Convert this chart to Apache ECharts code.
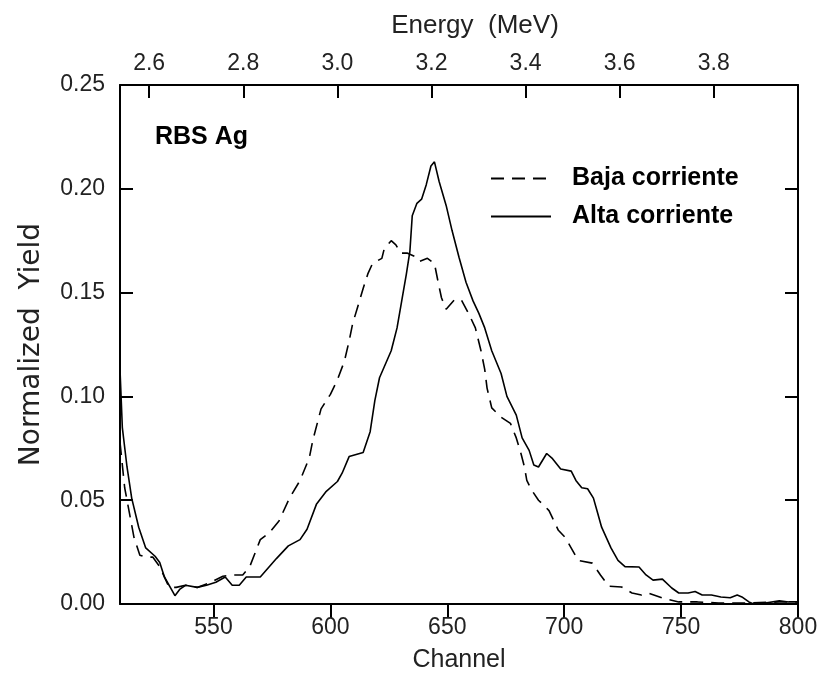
<!DOCTYPE html>
<html>
<head>
<meta charset="utf-8">
<script src="https://cdn.jsdelivr.net/npm/echarts@6/dist/echarts.min.js"></script>
<style>
html,body{margin:0;padding:0;background:#fff}
#wrap{position:relative;width:825px;height:685px}
#frame,#chart{position:absolute;left:0;top:0;width:825px;height:685px}
</style>
</head>
<body>
<div id="wrap"><div id="frame"></div><div id="chart"></div></div>
<script>
// Channel ticks (bottom axis) and energy ticks (top axis)
const channelTicks = [550, 600, 650, 700, 750, 800];
const energyTicks = [2.6, 2.8, 3.0, 3.2, 3.4, 3.6, 3.8];

// Alta corriente (solid)
const altaChannel = [510,511,513,515,518,521,525,527,529,532,533.5,535.5,538,543,547,551,555,558,561,564,570,577,582,587,590,594,598,603,605,608,614,617,619,621,626,628.5,630.5,632.5,634,635,637,639,641,643,644.5,646.5,649.5,652,655,658,661,663.5,666,669,673,675.5,679.5,682,685,687,689,692.5,695,698.5,703,705,707.5,710,712.5,714,716,720,723,726,732,735,738,742,746,749,753,756,759,763,767,771,774,776,779,781,786,792,796,800];
const altaYield = [0.113,0.085,0.066,0.051,0.037,0.027,0.023,0.020,0.013,0.007,0.004,0.007,0.009,0.008,0.009,0.0105,0.013,0.009,0.009,0.013,0.013,0.022,0.028,0.031,0.036,0.048,0.054,0.059,0.063,0.071,0.073,0.083,0.098,0.109,0.122,0.133,0.146,0.159,0.170,0.187,0.193,0.195,0.202,0.211,0.213,0.2035,0.192,0.180,0.167,0.155,0.146,0.140,0.133,0.122,0.111,0.100,0.091,0.080,0.074,0.067,0.066,0.0725,0.070,0.065,0.064,0.0595,0.056,0.0555,0.051,0.045,0.037,0.027,0.021,0.018,0.0178,0.014,0.0115,0.012,0.0077,0.0053,0.0053,0.006,0.0043,0.0043,0.0034,0.003,0.0043,0.0034,0.001,0.0,0.0005,0.0015,0.001,0.001];

// Baja corriente (dashed)
const bajaChannel = [510,512,514,516,518.5,521,524,527,529,531,534,538,543,548,554,558,562.5,565.5,570,574,578,582.5,587,591,592.5,596,600,603,606,608,609.5,611.5,614,616,618,622,623,626,628,630,633,636,638,641.5,644.5,646,647.5,649.5,653,656,659.3,662,664.4,666,667,669,673,677,679.5,681.5,683,684,686,689,693.5,697.5,700.5,703.5,706,712,715.5,719,724.5,729,733,736,742,749,757,766,777,792,800];
const bajaYield = [0.078,0.056,0.044,0.032,0.0235,0.0226,0.0226,0.018,0.013,0.008,0.008,0.009,0.008,0.010,0.0134,0.014,0.014,0.018,0.031,0.0345,0.040,0.051,0.0595,0.0705,0.079,0.094,0.101,0.108,0.117,0.1267,0.135,0.1425,0.152,0.159,0.164,0.1665,0.171,0.175,0.173,0.169,0.169,0.1675,0.165,0.1665,0.164,0.1555,0.1475,0.142,0.1465,0.1465,0.1395,0.133,0.122,0.113,0.104,0.0945,0.090,0.087,0.080,0.0725,0.066,0.0595,0.055,0.050,0.045,0.0355,0.032,0.026,0.021,0.0197,0.014,0.0086,0.0082,0.0053,0.0043,0.0053,0.0029,0.001,0.001,0.0005,0.0005,0.001,0.001];

const seriesNames = ['Baja corriente', 'Alta corriente'];

const pairs = (xs, ys) => xs.map((x, i) => [x, ys[i]]);

const FONT = "'Liberation Sans', Arial, sans-serif";
const NAMEFONT = "'DejaVu Sans', sans-serif";
const axisText = () => ({ fontFamily: FONT, fontSize: 23, color: '#222' });
const lineAxis = () => ({ show: true, onZero: false, lineStyle: { color: '#000', width: 2 } });
const tickLine = () => ({ color: '#000', width: 2 });
const CH_MIN = 510, CH_MAX = 800, E_MIN = 2.538, E_MAX = 3.979, Y_MIN = 0, Y_MAX = 0.25;
const GRID = { left: 120, right: 27, top: 85, bottom: 81 };
const noTick = { show: false };
const noLabel = { show: false };
const noSplit = { show: false };

// Layer 1: frame with tick marks (drawn by the axes)
const frame = echarts.init(document.getElementById('frame'));
frame.setOption({
  animation: false,
  grid: GRID,
  xAxis: [{
    type: 'value', position: 'bottom', min: CH_MIN, max: CH_MAX,
    axisLine: lineAxis(),
    axisTick: { show: true, inside: false, length: 14, customValues: channelTicks, lineStyle: tickLine() },
    axisLabel: noLabel, splitLine: noSplit
  }, {
    type: 'value', position: 'top', min: E_MIN, max: E_MAX,
    axisLine: lineAxis(),
    axisTick: { show: true, inside: true, length: 13, customValues: energyTicks, lineStyle: tickLine() },
    axisLabel: noLabel, splitLine: noSplit
  }],
  yAxis: [{
    type: 'value', position: 'left', min: Y_MIN, max: Y_MAX, interval: 0.05,
    axisLine: lineAxis(),
    axisTick: { show: true, inside: true, length: 13, lineStyle: tickLine() },
    axisLabel: noLabel, splitLine: noSplit
  }, {
    type: 'value', position: 'right', min: Y_MIN, max: Y_MAX, interval: 0.05,
    axisLine: lineAxis(),
    axisTick: { show: true, inside: true, length: 13, lineStyle: tickLine() },
    axisLabel: noLabel, splitLine: noSplit
  }],
  series: []
});

// Layer 2: data, labels, names, legend
const chart = echarts.init(document.getElementById('chart'));
chart.setOption({
  animation: false,
  grid: GRID,
  legend: {
    orient: 'vertical',
    left: 490,
    top: 166,
    padding: 0,
    itemWidth: 60,
    itemHeight: 14,
    itemGap: 13,
    data: seriesNames,
    itemStyle: { opacity: 0 },
    textStyle: { fontFamily: FONT, fontSize: 25, fontWeight: 'bold', color: '#000', padding: [0, 0, 0, 16] }
  },
  graphic: [{
    type: 'text', left: 155, top: 125,
    style: { text: 'RBS Ag', font: "bold 25px 'Liberation Sans', Arial, sans-serif", fill: '#000' }
  }],
  xAxis: [{
    type: 'value', position: 'bottom', min: CH_MIN, max: CH_MAX,
    name: 'Channel', nameLocation: 'middle', nameGap: 44,
    nameTextStyle: { fontFamily: FONT, fontSize: 25, color: '#222' },
    axisLine: { show: false, onZero: false }, axisTick: noTick,
    axisLabel: { show: true, customValues: channelTicks, margin: 12, ...axisText() },
    splitLine: noSplit
  }, {
    type: 'value', position: 'top', min: E_MIN, max: E_MAX,
    name: 'Energy  (MeV)', nameLocation: 'middle', nameGap: 46,
    nameTextStyle: { fontFamily: FONT, fontSize: 26, color: '#222', padding: [0, 0, 0, 32] },
    axisLine: { show: false, onZero: false }, axisTick: noTick,
    axisLabel: { show: true, customValues: energyTicks, margin: 10, formatter: v => v.toFixed(1), ...axisText() },
    splitLine: noSplit
  }],
  yAxis: [{
    type: 'value', position: 'left', min: Y_MIN, max: Y_MAX, interval: 0.05,
    name: 'Normalized  Yield', nameLocation: 'middle', nameGap: 74, nameRotate: 90,
    nameTextStyle: { fontFamily: NAMEFONT, fontSize: 28, color: '#222' },
    axisLine: { show: false, onZero: false }, axisTick: noTick,
    axisLabel: { show: true, margin: 15, formatter: v => v.toFixed(2), ...axisText() },
    splitLine: noSplit
  }],
  series: [{
    name: seriesNames[0], type: 'line', xAxisIndex: 0, yAxisIndex: 0,
    symbol: 'none', smooth: false,
    lineStyle: { color: '#000', width: 1.6, type: [13, 8] },
    itemStyle: { color: '#000' },
    data: pairs(bajaChannel, bajaYield)
  }, {
    name: seriesNames[1], type: 'line', xAxisIndex: 0, yAxisIndex: 0,
    symbol: 'none', smooth: false,
    lineStyle: { color: '#000', width: 1.6, type: 'solid' },
    itemStyle: { color: '#000' },
    data: pairs(altaChannel, altaYield)
  }]
});
</script>
</body>
</html>
